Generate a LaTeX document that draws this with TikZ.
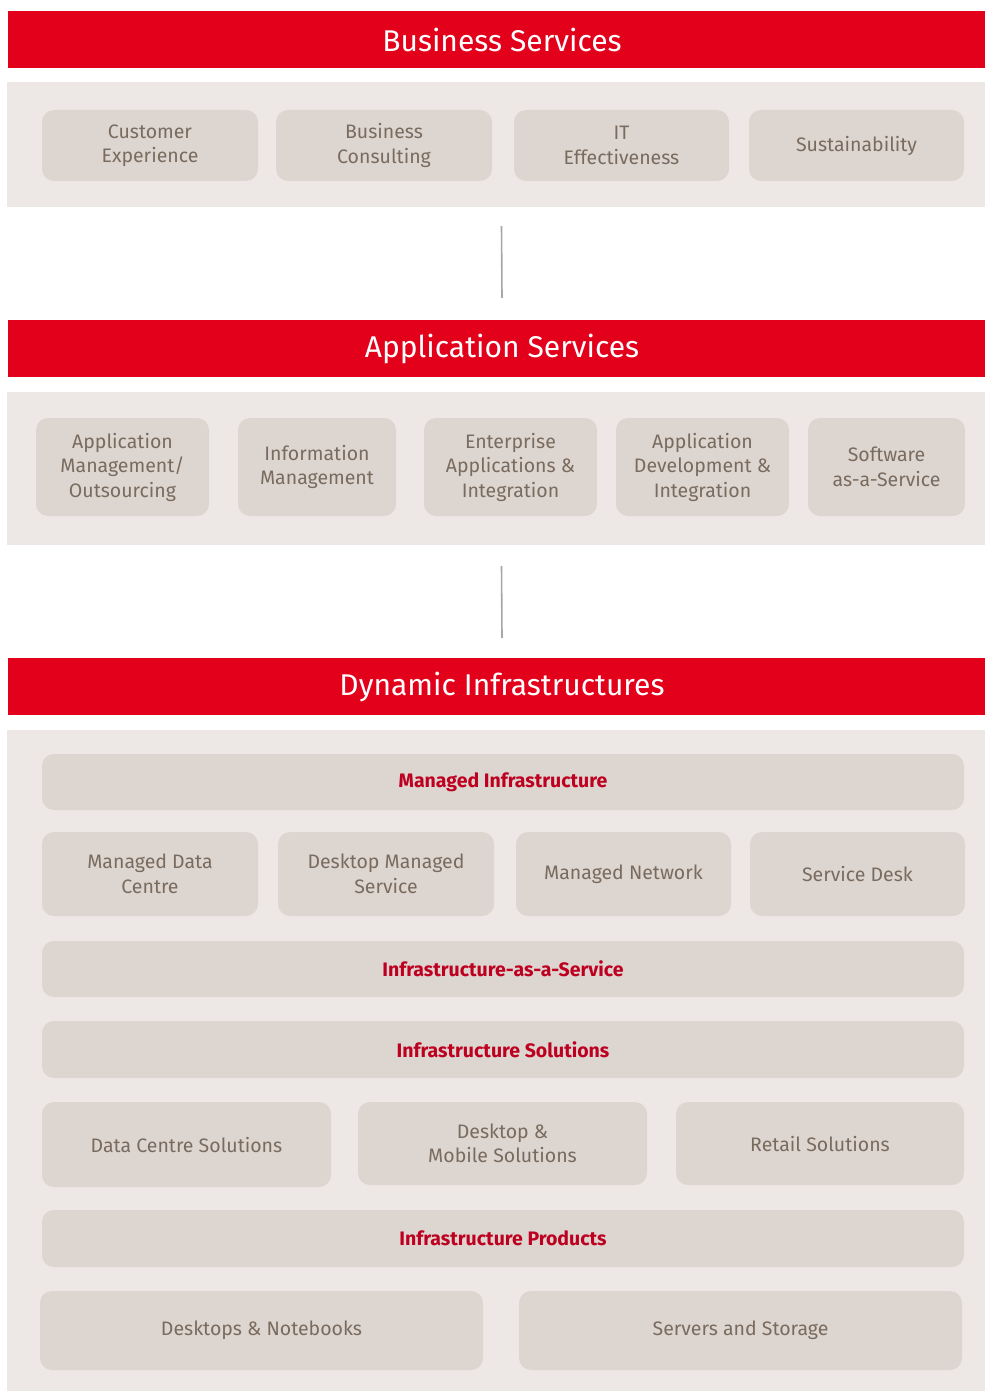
\documentclass[tikz,border=0pt]{standalone}
\usepackage{fontspec}
\setmainfont{Fira Sans}
\usetikzlibrary{positioning}
\definecolor{fjred}{HTML}{E2001A}
\definecolor{panelgray}{HTML}{EDE8E5}
\definecolor{tilegray}{HTML}{DDD5D0}
\definecolor{tiletext}{HTML}{7A6B5F}
\definecolor{bartext}{HTML}{BE0020}
\definecolor{linkgray}{HTML}{A6A6A6}
\tikzset{
  header/.style = {fill = fjred, text = white, inner sep = 0pt, font = \fontsize{30}{36}\selectfont},
  panel/.style = {fill = panelgray, inner sep = 0pt},
  tile/.style = {fill = tilegray, rounded corners = 12pt, text = tiletext, align = center, inner sep = 0pt, font = \fontsize{19.5}{24.5}\selectfont},
  bar/.style = {tile, text = bartext, font = \fontsize{19.5}{24}\selectfont\bfseries},
  link/.style = {draw = linkgray, line width = 1.6pt}
}
% style, x1, y1, x2, y2, name, text
\newcommand\blocknode[7]{\node[#1, minimum width = {#4-#2}, minimum height = {#5-#3}] (#6) at ({(#2+#4)/2},{(#3+#5)/2}) {#7};}
\begin{document}
\begin{tikzpicture}[x = 1pt, y = -1pt]
\useasboundingbox (0,0) rectangle (985,1391);
% business services
\blocknode{header}{8}{11}{985}{68}{bshead}{\hspace*{11pt}Business Services}
\blocknode{panel}{7}{82}{985}{207}{bspanel}{}
\blocknode{tile}{42}{110}{258}{181}{custexp}{Customer\\Experience}
\blocknode{tile}{276}{110}{492}{181}{busicons}{Business\\Consulting}
\blocknode{tile}{514}{110}{729}{181}{iteff}{IT\\Effectiveness}
\blocknode{tile}{749}{110}{964}{181}{sustain}{Sustainability}
% application services
\blocknode{header}{8}{320}{985}{377}{ashead}{\hspace*{11pt}Application Services}
\blocknode{panel}{7}{392}{985}{545}{aspanel}{}
\blocknode{tile}{36}{418}{209}{516}{appmgmt}{Application\\Management/\\Outsourcing}
\blocknode{tile}{238}{418}{396}{516}{infomgmt}{Information\\Management}
\blocknode{tile}{424}{418}{597}{516}{entapps}{Enterprise\\Applications \&\\Integration}
\blocknode{tile}{616}{418}{789}{516}{appdev}{Application\\Development \&\\Integration}
\blocknode{tile}{808}{418}{965}{516}{saas}{Software\\as-a-Service}
% dynamic infrastructures
\blocknode{header}{8}{658}{985}{715}{dihead}{\hspace*{11pt}Dynamic Infrastructures}
\blocknode{panel}{7}{730}{985}{1391}{dipanel}{}
\blocknode{bar}{42}{754}{964}{810}{manginfra}{Managed Infrastructure}
\blocknode{tile}{42}{832}{258}{916}{mangdc}{Managed Data\\Centre}
\blocknode{tile}{278}{832}{494}{916}{deskmang}{Desktop Managed\\Service}
\blocknode{tile}{516}{832}{731}{916}{mangnet}{Managed Network}
\blocknode{tile}{750}{832}{965}{916}{servdesk}{Service Desk}
\blocknode{bar}{42}{941}{964}{997}{iaas}{Infrastructure-as-a-Service}
\blocknode{bar}{42}{1021}{964}{1078}{infrasol}{Infrastructure Solutions}
\blocknode{tile}{42}{1102}{331}{1187}{dcsol}{Data Centre Solutions}
\blocknode{tile}{358}{1102}{647}{1185}{mobsol}{Desktop \&\\Mobile Solutions}
\blocknode{tile}{676}{1102}{964}{1185}{retsol}{Retail Solutions}
\blocknode{bar}{42}{1210}{964}{1267}{infraprod}{Infrastructure Products}
\blocknode{tile}{40}{1291}{483}{1370}{desknote}{Desktops \& Notebooks}
\blocknode{tile}{519}{1291}{962}{1370}{servstore}{Servers and Storage}
% links between the layers
\draw[link] ([xshift = 5.5pt, yshift = -19pt]bspanel.south) -- ([xshift = 5.5pt, yshift = 22pt]ashead.north);
\draw[link] ([xshift = 5.5pt, yshift = -21pt]aspanel.south) -- ([xshift = 5.5pt, yshift = 20pt]dihead.north);
\end{tikzpicture}
\end{document}
